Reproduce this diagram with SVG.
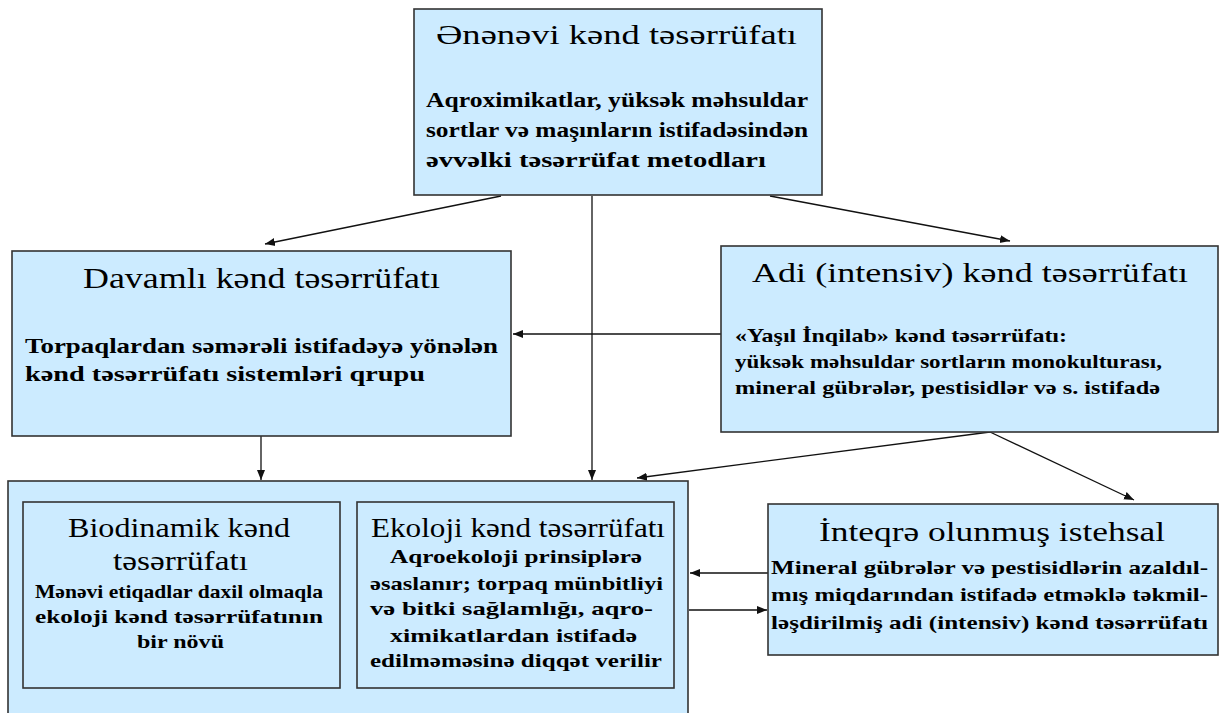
<svg xmlns="http://www.w3.org/2000/svg" width="1219" height="713" viewBox="0 0 1219 713">
  <style>
    .box { fill: #CCEBFF; stroke: #333333; stroke-width: 1.6; }
    .h { font-weight: normal; }
    .b { font-weight: bold; }
    .con { stroke: #111; stroke-width: 1.3; fill: none; marker-end: url(#arr); }
  </style>
  <defs>
    <marker id="arr" viewBox="0 0 10 10" refX="10" refY="5" markerWidth="10" markerHeight="10" markerUnits="userSpaceOnUse" orient="auto">
      <path d="M0,1 L10,5 L0,9 z" fill="#111"/>
    </marker>
  </defs>
  <rect width="1219" height="713" fill="#ffffff"/>

  <g id="connectors">
    <line class="con" x1="501" y1="196" x2="265" y2="244"/>
    <line class="con" x1="592" y1="196" x2="592" y2="480"/>
    <line class="con" x1="770" y1="196" x2="1010" y2="241"/>
    <line class="con" x1="721" y1="334" x2="513" y2="334"/>
    <line class="con" x1="261" y1="436" x2="261" y2="480"/>
    <line class="con" x1="990" y1="432" x2="637" y2="478"/>
    <line class="con" x1="990" y1="432" x2="1134" y2="500"/>
    <line class="con" x1="768" y1="573" x2="690" y2="573"/>
    <line class="con" x1="689" y1="610" x2="767" y2="610"/>
  </g>

  <g font-family="Liberation Serif, DejaVu Serif, serif" fill="#000">
  <g id="enenevi">
    <rect class="box" x="414" y="9" width="408" height="186"/>
    <text class="h" x="436" y="44" font-size="27" textLength="361" lengthAdjust="spacingAndGlyphs">Ənənəvi kənd təsərrüfatı</text>
    <text class="b" x="426" y="107" font-size="20" textLength="382" lengthAdjust="spacingAndGlyphs">Aqroximikatlar, yüksək məhsuldar</text>
    <text class="b" x="426" y="137" font-size="20" textLength="382" lengthAdjust="spacingAndGlyphs">sortlar və maşınların istifadəsindən</text>
    <text class="b" x="426" y="167" font-size="20" textLength="340" lengthAdjust="spacingAndGlyphs">əvvəlki təsərrüfat metodları</text>
  </g>

  <g id="davamli">
    <rect class="box" x="12" y="251" width="499" height="185"/>
    <text class="h" x="83" y="288" font-size="29" textLength="357" lengthAdjust="spacingAndGlyphs">Davamlı kənd təsərrüfatı</text>
    <text class="b" x="25" y="353" font-size="21" textLength="473" lengthAdjust="spacingAndGlyphs">Torpaqlardan səmərəli istifadəyə yönələn</text>
    <text class="b" x="25" y="381" font-size="21" textLength="400" lengthAdjust="spacingAndGlyphs">kənd təsərrüfatı sistemləri qrupu</text>
  </g>

  <g id="adi">
    <rect class="box" x="721" y="246" width="497" height="186"/>
    <text class="h" x="752" y="282" font-size="28" textLength="436" lengthAdjust="spacingAndGlyphs">Adi (intensiv) kənd təsərrüfatı</text>
    <text class="b" x="735" y="342" font-size="19" textLength="332" lengthAdjust="spacingAndGlyphs">«Yaşıl İnqilab» kənd təsərrüfatı:</text>
    <text class="b" x="735" y="368" font-size="19" textLength="427" lengthAdjust="spacingAndGlyphs">yüksək məhsuldar sortların monokulturası,</text>
    <text class="b" x="735" y="394" font-size="19" textLength="425" lengthAdjust="spacingAndGlyphs">mineral gübrələr, pestisidlər və s. istifadə</text>
  </g>

  <g id="ekoloji-qrup">
    <rect class="box" x="8" y="481" width="680" height="250"/>
  </g>

  <g id="biodinamik">
    <rect class="box" x="23" y="502" width="317" height="186"/>
    <text class="h" x="68" y="537" font-size="28" textLength="222" lengthAdjust="spacingAndGlyphs">Biodinamik kənd</text>
    <text class="h" x="113" y="570" font-size="28" textLength="135" lengthAdjust="spacingAndGlyphs">təsərrüfatı</text>
    <text class="b" x="35" y="598" font-size="19" textLength="288" lengthAdjust="spacingAndGlyphs">Mənəvi etiqadlar daxil olmaqla</text>
    <text class="b" x="35" y="623" font-size="19" textLength="288" lengthAdjust="spacingAndGlyphs">ekoloji kənd təsərrüfatının</text>
    <text class="b" x="137" y="648" font-size="19" textLength="87" lengthAdjust="spacingAndGlyphs">bir növü</text>
  </g>

  <g id="ekoloji">
    <rect class="box" x="357" y="502" width="317" height="186"/>
    <text class="h" x="371" y="537" font-size="28" textLength="294" lengthAdjust="spacingAndGlyphs">Ekoloji kənd təsərrüfatı</text>
    <text class="b" x="390" y="563" font-size="19" textLength="252" lengthAdjust="spacingAndGlyphs">Aqroekoloji prinsiplərə</text>
    <text class="b" x="370" y="590" font-size="19" textLength="293" lengthAdjust="spacingAndGlyphs">əsaslanır;  torpaq münbitliyi</text>
    <text class="b" x="370" y="615" font-size="19" textLength="283" lengthAdjust="spacingAndGlyphs">və bitki sağlamlığı, aqro-</text>
    <text class="b" x="390" y="642" font-size="19" textLength="247" lengthAdjust="spacingAndGlyphs">ximikatlardan istifadə</text>
    <text class="b" x="370" y="667" font-size="19" textLength="292" lengthAdjust="spacingAndGlyphs">edilməməsinə diqqət verilir</text>
  </g>

  <g id="inteqre">
    <rect class="box" x="768" y="504" width="450" height="151"/>
    <text class="h" x="819" y="541" font-size="28" textLength="346" lengthAdjust="spacingAndGlyphs">İnteqrə olunmuş istehsal</text>
    <text class="b" x="771" y="574" font-size="19" textLength="437" lengthAdjust="spacingAndGlyphs">Mineral gübrələr və pestisidlərin azaldıl-</text>
    <text class="b" x="771" y="601" font-size="19" textLength="437" lengthAdjust="spacingAndGlyphs">mış miqdarından istifadə etməklə təkmil-</text>
    <text class="b" x="771" y="629" font-size="19" textLength="437" lengthAdjust="spacingAndGlyphs">ləşdirilmiş adi (intensiv) kənd təsərrüfatı</text>
  </g>
  </g>
</svg>
